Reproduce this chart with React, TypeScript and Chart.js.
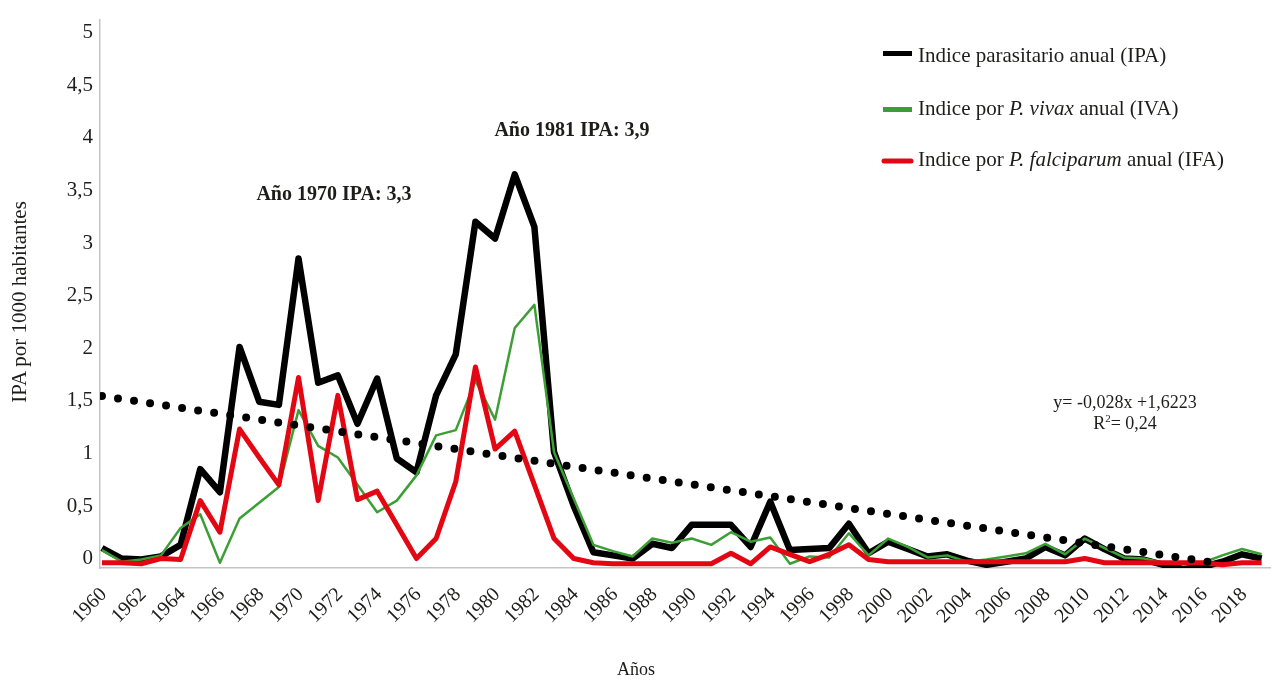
import React, { useEffect, useRef } from 'react';
import { Chart, registerables } from 'chart.js';

Chart.register(...registerables);

const years = [
  1960, 1961, 1962, 1963, 1964, 1965, 1966, 1967, 1968, 1969,
  1970, 1971, 1972, 1973, 1974, 1975, 1976, 1977, 1978, 1979,
  1980, 1981, 1982, 1983, 1984, 1985, 1986, 1987, 1988, 1989,
  1990, 1991, 1992, 1993, 1994, 1995, 1996, 1997, 1998, 1999,
  2000, 2001, 2002, 2003, 2004, 2005, 2006, 2007, 2008, 2009,
  2010, 2011, 2012, 2013, 2014, 2015, 2016, 2017, 2018, 2019,
];

// Indice parasitario anual (IPA)
const ipa = [
  0.15, 0.05, 0.04, 0.07, 0.18, 0.9, 0.68, 2.06, 1.54, 1.51,
  2.9, 1.72, 1.79, 1.33, 1.76, 1.0, 0.87, 1.6, 1.99, 3.25,
  3.09, 3.7, 3.2, 1.06, 0.55, 0.11, 0.08, 0.05, 0.19, 0.15,
  0.37, 0.37, 0.37, 0.16, 0.59, 0.13, 0.14, 0.15, 0.38, 0.1,
  0.21, 0.14, 0.07, 0.09, 0.03, -0.01, 0.02, 0.05, 0.16, 0.08,
  0.24, 0.14, 0.05, 0.04, -0.01, -0.05, -0.03, 0.02, 0.09, 0.05,
];

// Indice por P. vivax anual (IVA)
const iva = [
  0.13, 0.02, 0.04, 0.08, 0.34, 0.47, 0.01, 0.43, 0.58, 0.73,
  1.46, 1.12, 1.01, 0.75, 0.49, 0.6, 0.84, 1.22, 1.27, 1.74,
  1.37, 2.24, 2.46, 1.06, 0.62, 0.18, 0.12, 0.07, 0.24, 0.2,
  0.24, 0.18, 0.3, 0.21, 0.25, 0.0, 0.07, 0.06, 0.29, 0.08,
  0.24, 0.16, 0.06, 0.08, 0.02, 0.04, 0.07, 0.1, 0.19, 0.09,
  0.24, 0.15, 0.06, 0.05, 0.01, 0.01, 0.01, 0.08, 0.14, 0.09,
];

// Indice por P. falciparum anual (IFA)
const ifa = [
  0.01, 0.01, 0.0, 0.05, 0.04, 0.6, 0.3, 1.28, 1.01, 0.75,
  1.77, 0.6, 1.6, 0.61, 0.69, 0.37, 0.05, 0.24, 0.78, 1.87,
  1.09, 1.26, 0.75, 0.24, 0.05, 0.01, 0.0, 0.0, 0.0, 0.0,
  0.0, 0.0, 0.1, 0.0, 0.16, 0.09, 0.02, 0.09, 0.18, 0.04,
  0.02, 0.02, 0.02, 0.02, 0.02, 0.02, 0.02, 0.02, 0.02, 0.02,
  0.05, 0.01, 0.01, 0.01, 0.01, 0.01, 0.01, -0.01, 0.01, 0.01,
];

// Linear trend shown on the chart: y = -0,028x + 1,6223 (x = 1 for 1960)
const trendSlope = -0.028;
const trendIntercept = 1.6223;
const trendYears = [1960, 2017];

const xTickValues = [
  1960, 1962, 1964, 1966, 1968, 1970, 1972, 1974, 1976, 1978,
  1980, 1982, 1984, 1986, 1988, 1990, 1992, 1994, 1996, 1998,
  2000, 2002, 2004, 2006, 2008, 2010, 2012, 2014, 2016, 2018,
];
const xTickLabels = xTickValues.map((v) => String(v));
const yTickValues = [0, 0.5, 1, 1.5, 2, 2.5, 3, 3.5, 4, 4.5, 5];
const yTickLabels = ['0', '0,5', '1', '1,5', '2', '2,5', '3', '3,5', '4', '4,5', '5'];

const FONT = "'Liberation Serif', 'Times New Roman', serif";
const TEXT = '#1d1d1b';
const AXIS = '#c4c4c4';

export default function App() {
  const canvasRef = useRef<HTMLCanvasElement | null>(null);

  useEffect(() => {
    const canvas = canvasRef.current;
    if (!canvas) return;
    const toPts = (vals: number[]) => years.map((x, i) => ({ x, y: vals[i] }));
    const trendPts = trendYears.map((yr) => ({
      x: yr,
      y: trendIntercept + trendSlope * (yr - 1959),
    }));
    const chart = new Chart(canvas, {
      type: 'line',
      data: {
        datasets: [
          {
            label: 'Tendencia',
            data: trendPts,
            borderColor: '#000',
            borderWidth: 8,
            borderDash: [0, 16.2],
            borderCapStyle: 'round',
            pointRadius: 0,
            order: 0,
          },
          {
            label: 'Indice por P. falciparum anual (IFA)',
            data: toPts(ifa),
            borderColor: '#e30613',
            borderWidth: 5,
            borderJoinStyle: 'round',
            pointRadius: 0,
            order: 1,
          },
          {
            label: 'Indice por P. vivax anual (IVA)',
            data: toPts(iva),
            borderColor: '#3c9f35',
            borderWidth: 2.5,
            borderJoinStyle: 'round',
            pointRadius: 0,
            order: 2,
          },
          {
            label: 'Indice parasitario anual (IPA)',
            data: toPts(ipa),
            borderColor: '#000',
            borderWidth: 6.5,
            borderJoinStyle: 'round',
            pointRadius: 0,
            order: 3,
          },
        ],
      },
      options: {
        animation: false,
        responsive: false,
        devicePixelRatio: 1,
        layout: { padding: { top: 8, right: 1, left: 0, bottom: 0 } },
        plugins: {
          legend: { display: false },
          tooltip: { enabled: false },
        },
        scales: {
          x: {
            type: 'linear',
            min: 1959.9,
            max: 2019.47,
            grid: { display: false, drawTicks: false },
            border: { display: true, color: AXIS, width: 1.5 },
            afterBuildTicks: (s: any) => {
              s.ticks = xTickValues.map((v) => ({ value: v }));
            },
            afterFit: (s: any) => {
              s.height = 112;
            },
            ticks: {
              autoSkip: false,
              minRotation: 45,
              maxRotation: 45,
              padding: 15,
              labelOffset: 2,
              color: TEXT,
              font: { family: FONT, size: 20 },
              callback: (_v: any, i: number) => xTickLabels[i],
            },
          },
          y: {
            type: 'linear',
            min: -0.04,
            max: 5.17,
            grid: { display: false, drawTicks: false },
            border: { display: true, color: AXIS, width: 1.5 },
            afterBuildTicks: (s: any) => {
              s.ticks = yTickValues.map((v) => ({ value: v }));
            },
            afterFit: (s: any) => {
              s.width = 100;
            },
            ticks: {
              padding: 7,
              labelOffset: -5,
              color: TEXT,
              font: { family: FONT, size: 21 },
              callback: (_v: any, i: number) => yTickLabels[i],
            },
          },
        },
      },
    } as any);
    return () => chart.destroy();
  }, []);

  return (
    <div
      style={{
        position: 'fixed',
        left: 0,
        top: 0,
        width: 1274,
        height: 680,
        background: '#fff',
        overflow: 'hidden',
      }}
    >
      <canvas
        ref={canvasRef}
        width={1274}
        height={680}
        style={{ display: 'block', width: 1274, height: 680 }}
      />
      <svg
        width={1274}
        height={680}
        style={{ position: 'absolute', left: 0, top: 0, pointerEvents: 'none' }}
        fontFamily={FONT}
        fill={TEXT}
      >
        {/* Axis titles */}
        <text x={26} y={302} fontSize={21} textAnchor="middle" transform="rotate(-90 26 302)">
          IPA por 1000 habitantes
        </text>
        <text x={636} y={675} fontSize={18} textAnchor="middle">
          Años
        </text>

        {/* Peak annotations */}
        <text x={334} y={200} fontSize={20} fontWeight="bold" textAnchor="middle">
          Año 1970 IPA: 3,3
        </text>
        <text x={572} y={136} fontSize={20} fontWeight="bold" textAnchor="middle">
          Año 1981 IPA: 3,9
        </text>

        {/* Trend equation */}
        <text x={1125} y={408} fontSize={18} textAnchor="middle">
          y= -0,028x +1,6223
        </text>
        <text x={1125} y={429} fontSize={18} textAnchor="middle">
          R<tspan fontSize={11} dy={-7}>2</tspan>
          <tspan dy={7}>= 0,24</tspan>
        </text>

        {/* Legend */}
        <line x1={883} x2={912} y1={53.5} y2={53.5} stroke="#000" strokeWidth={5} />
        <text x={918} y={62} fontSize={21}>
          Indice parasitario anual (IPA)
        </text>
        <line x1={883} x2={912} y1={109.5} y2={109.5} stroke="#3c9f35" strokeWidth={5} />
        <text x={918} y={115} fontSize={21}>
          Indice por <tspan fontStyle="italic">P. vivax</tspan> anual (IVA)
        </text>
        <line
          x1={884}
          x2={911}
          y1={161}
          y2={161}
          stroke="#e30613"
          strokeWidth={5}
          strokeLinecap="round"
        />
        <text x={918} y={166} fontSize={21}>
          Indice por <tspan fontStyle="italic">P. falciparum</tspan> anual (IFA)
        </text>
      </svg>
    </div>
  );
}
